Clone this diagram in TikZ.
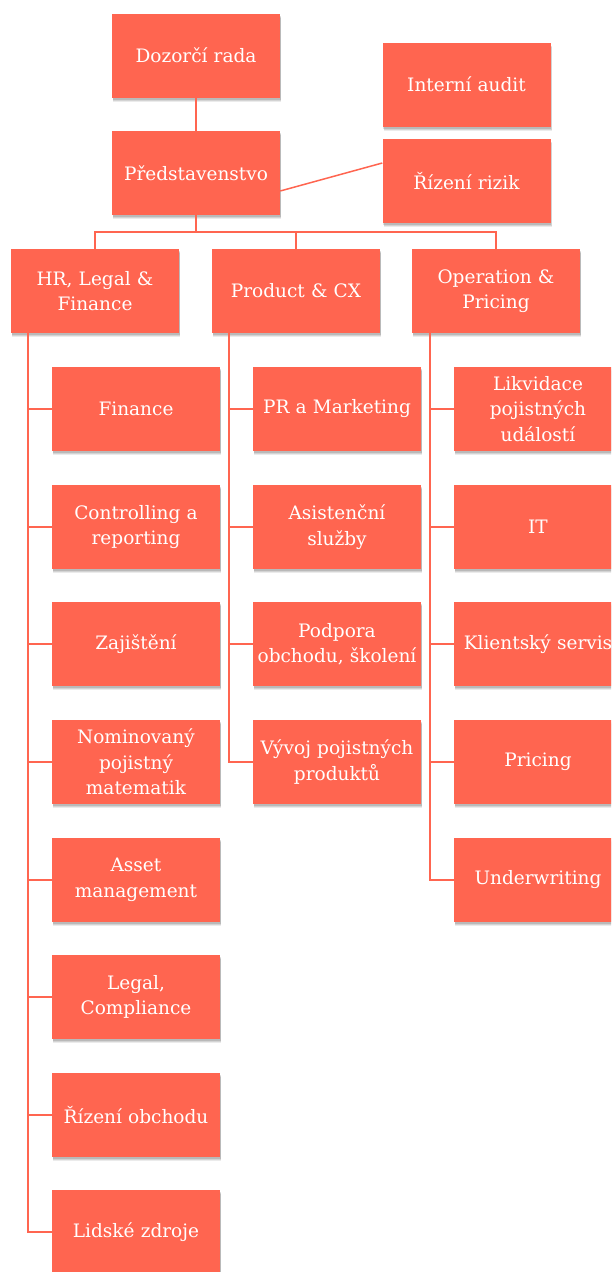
\documentclass[tikz,border=0pt]{standalone}
\usepackage{fontspec}
\setmainfont{DejaVu Serif}
\usetikzlibrary{shadows,calc}
\definecolor{coral}{RGB}{255,101,80}
\tikzset{
  box/.style={fill=coral, text=white, minimum width=168pt, minimum height=84pt,
    inner sep=1pt, align=center, text width=166pt,
    font=\fontsize{18.5}{25.5}\selectfont,
    drop shadow={shadow xshift=1pt, shadow yshift=-4pt, opacity=0.08, fill=black},
    drop shadow={shadow xshift=1pt, shadow yshift=-3pt, opacity=0.10, fill=black},
    drop shadow={shadow xshift=0.5pt, shadow yshift=-2pt, opacity=0.12, fill=black}},
  link/.style={draw=coral, line width=1.5pt}
}
\begin{document}
\begin{tikzpicture}[x=1pt,y=-1pt]
\useasboundingbox (0,0) rectangle (611,1272);
\begin{scope}
\clip (0,0) rectangle (611,1272);
\node[box] (dozor) at (196,55.5) {Dozorčí rada};
\node[box] (pred) at (196,173) {Představenstvo};
\node[box] (audit) at (466.5,84.5) {Interní audit};
\node[box] (rizik) at (466.5,181) {Řízení rizik};
\node[box] (hr) at (95,291) {HR, Legal \&\\Finance};
\node[box] (prod) at (296,291) {Product \& CX};
\node[box] (oper) at (496,291) {Operation \&\\Pricing};
% left column
\node[box] (fin) at (136,409) {Finance};
\node[box] (ctrl) at (136,527) {Controlling a\\reporting};
\node[box] (zaj) at (136,644) {Zajištění};
\node[box] (nom) at (136,762) {Nominovaný\\pojistný\\matematik};
\node[box] (asset) at (136,880) {Asset\\management};
\node[box] (legal) at (136,997) {Legal,\\Compliance};
\node[box] (obch) at (136,1115) {Řízení obchodu};
\node[box] (lid) at (136,1232) {Lidské zdroje};
% middle column
\node[box] (pr) at (337,409) {PR a Marketing};
\node[box] (asis) at (337,527) {Asistenční\\služby};
\node[box] (podp) at (337,644) {Podpora\\obchodu, školení};
\node[box] (vyv) at (337,762) {Vývoj pojistných\\produktů};
% right column
\node[box] (likv) at (538,409) {Likvidace\\pojistných\\událostí};
\node[box] (it) at (538,527) {IT};
\node[box] (klient) at (538,644) {Klientský servis};
\node[box] (pric) at (538,762) {Pricing};
\node[box] (under) at (538,880) {Underwriting};
\end{scope}
% connectors
\coordinate (bus) at (196,232);
\coordinate (hl) at (28,333);
\coordinate (pl) at (229,333);
\coordinate (ol) at (430,333);
\draw[link] (dozor.south) -- (pred.north);
\draw[link] ($(pred.east)+(0,18)$) -- ($(rizik.west)+(0,-18)$);
\draw[link] (pred.south) -- (bus) -| (hr.north);
\draw[link] (bus) -| (prod.north);
\draw[link] (bus) -| (oper.north);
\foreach \c in {fin,ctrl,zaj,nom,asset,legal,obch,lid} \draw[link] (hl) |- (\c.west);
\foreach \c in {pr,asis,podp,vyv} \draw[link] (pl) |- (\c.west);
\foreach \c in {likv,it,klient,pric,under} \draw[link] (ol) |- (\c.west);
\end{tikzpicture}
\end{document}
